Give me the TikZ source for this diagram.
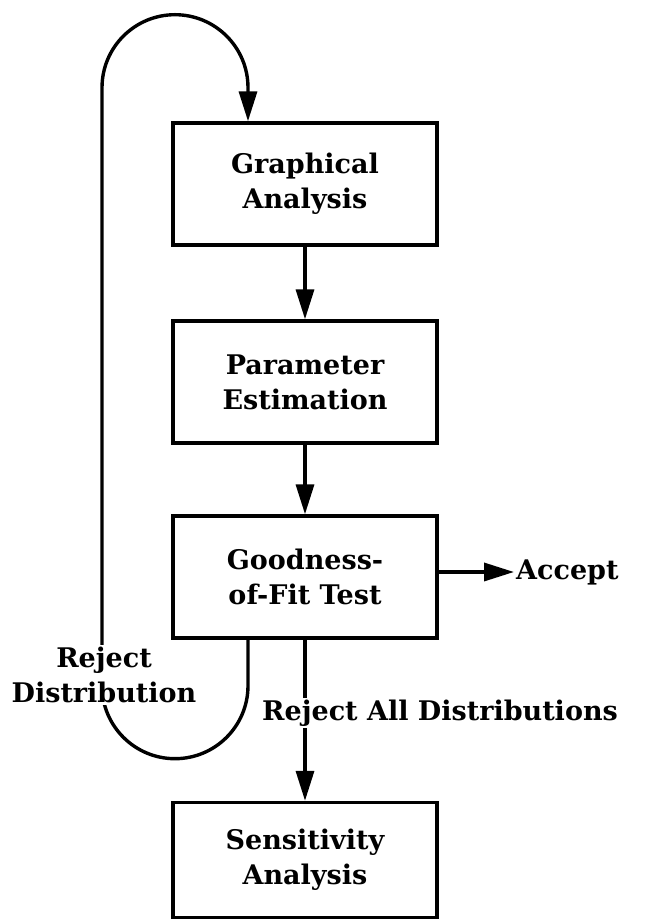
\documentclass[tikz,border=0pt]{standalone}
\usepackage{fontspec}
\setmainfont{DejaVu Serif}
\usetikzlibrary{arrows.meta}
\begin{document}
\begin{tikzpicture}[x=1pt,y=1pt,
    every node/.style={font=\bfseries\fontsize{27}{35}\selectfont, align=center},
    box/.style={draw, line width=3.4pt, minimum width=264pt, minimum height=122pt, inner sep=0pt},
    arr/.style={line width=3.4pt, -{Triangle[length=30pt,width=18pt]}},
    lbl/.style={fill=white, inner sep=2pt}]
      \useasboundingbox (0,0) rectangle (651,924);
      % Nodes: Steps
      \node[box] (GA) at (305,740) {Graphical\\Analysis};
      \node[box] (PE) at (305,542) {Parameter\\Estimation};
      \node[box] (GF) at (305,347) {Goodness-\\of-Fit Test};
      \node[box, minimum height=115pt] (SA) at (305,64) {Sensitivity\\Analysis};
      \node[anchor=west, inner sep=2pt] (acc) at (514,352) {Accept};
      \coordinate (loopR) at (248,0);
      % Arrows: down the chain
      \draw[arr] (GA) -- (PE);
      \draw[arr] (PE) -- (GF);
      \draw[arr] (GF) -- (SA);
      \draw[arr] (GF.east |- acc) -- (acc);
      % Arrows: loop back
      \draw[arr] (GF.south -| loopR) -- ++(0,-46)
        arc[start angle=0, end angle=-180, radius=73] -- ++(0,598)
        arc[start angle=180, end angle=0, radius=73] -- (GA.north -| loopR);
      % Nodes: Labels on lines
      \node[lbl] (rejD) at (104,249) {Reject\\Distribution};
      \node[lbl, anchor=west] (rejA) at (260,211) {Reject All Distributions};
\end{tikzpicture}
\end{document}
